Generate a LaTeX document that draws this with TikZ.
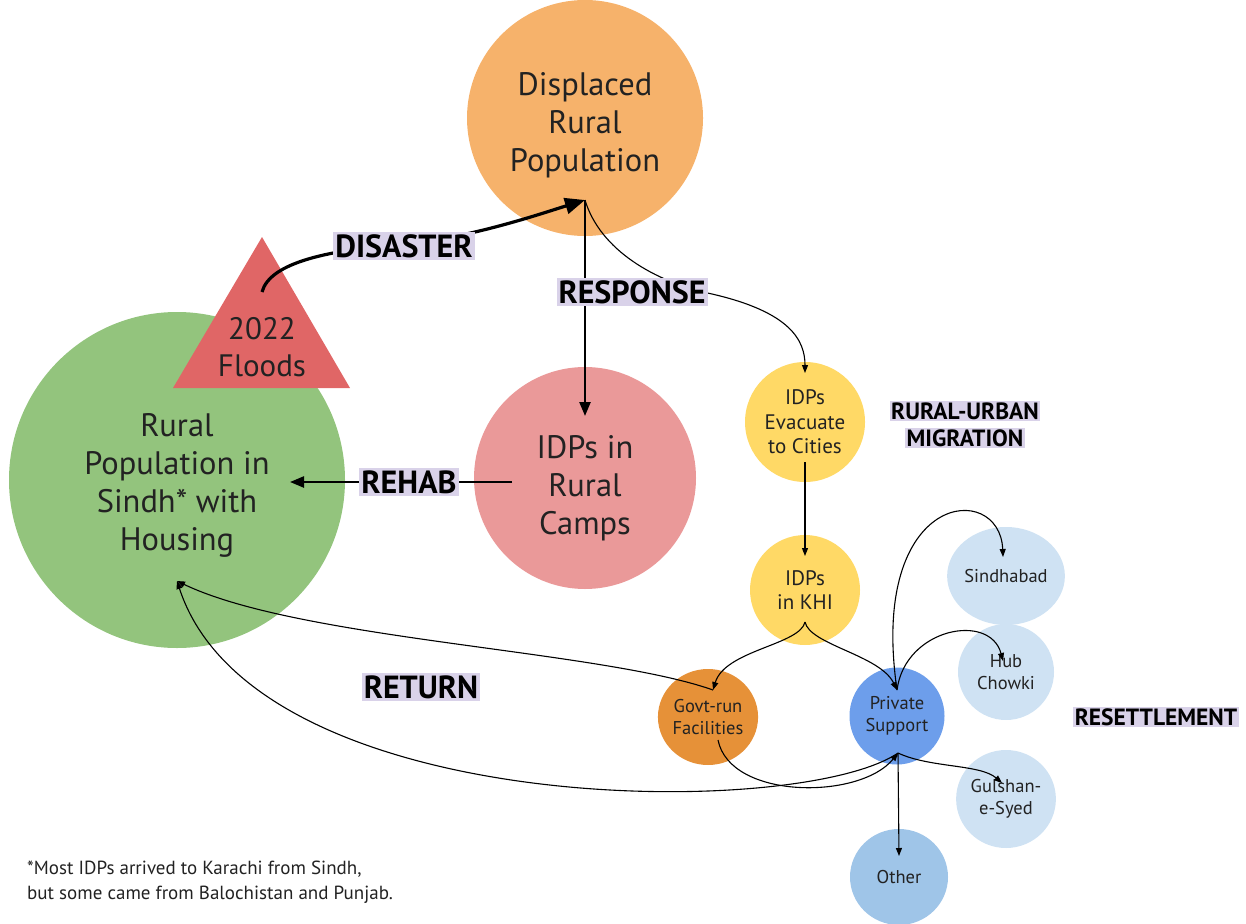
\documentclass[tikz,border=0pt]{standalone}
\usepackage{fontspec}
\setmainfont{PT Sans}
\usetikzlibrary{arrows.meta,shapes.geometric}
\definecolor{corange}{HTML}{F6B26B}
\definecolor{cred}{HTML}{E06666}
\definecolor{cgreen}{HTML}{93C47D}
\definecolor{cpink}{HTML}{EA9999}
\definecolor{cyellow}{HTML}{FFD966}
\definecolor{cgovt}{HTML}{E69138}
\definecolor{cpriv}{HTML}{6D9EEB}
\definecolor{clblue}{HTML}{CFE2F3}
\definecolor{cother}{HTML}{9FC5E8}
\definecolor{clav}{HTML}{D9D2E9}
\definecolor{ctext}{HTML}{222222}
\begin{document}
\begin{tikzpicture}[x=1pt,y=-1pt,
  bubble/.style={ellipse,inner sep=0pt,align=center,text=ctext},
  big/.style={bubble,font=\fontsize{32.5}{38}\selectfont},
  mid/.style={bubble,font=\fontsize{21}{24.5}\selectfont},
  small/.style={bubble,font=\fontsize{18.5}{22.5}\selectfont},
  lbl/.style={fill=clav,inner sep=2pt,text=black,font=\bfseries\fontsize{32}{34}\selectfont},
  slbl/.style={fill=clav,inner sep=1.5pt,text=black,font=\bfseries\fontsize{23.5}{25}\selectfont},
  thickarr/.style={line width=3.2pt,-{Triangle[length=20pt,width=16pt]}},
  medarr/.style={line width=2.4pt,-{Triangle[length=14pt,width=11pt]}},
  thinarr/.style={line width=1.1pt,-{Triangle[length=8pt,width=6pt]}}]
\useasboundingbox (0,0) rectangle (1246,923);
% nodes
\node[bubble,fill=corange,minimum width=236pt,minimum height=236pt] (disp) at (585,118) {};
\node[big] (disptxt) at (585,125) {Displaced\\Rural\\Population};
\node[bubble,fill=cgreen,minimum width=336pt,minimum height=336pt] (rural) at (177,480) {};
\node[big] (ruraltxt) at (177,485) {Rural\\Population in\\Sindh* with\\Housing};
\fill[cred] (262,237) -- (350,388) -- (173,388) -- cycle;
\node[bubble,font=\fontsize{31}{37}\selectfont] (flood) at (262,347) {2022\\Floods};
\node[bubble,fill=cpink,minimum width=222pt,minimum height=222pt] (camps) at (585,478) {};
\node[big] (campstxt) at (585,488) {IDPs in\\Rural\\Camps};
\node[mid,fill=cyellow,minimum width=120pt,minimum height=120pt] (evac) at (805,422) {IDPs\\Evacuate\\to Cities};
\node[mid,fill=cyellow,minimum width=110pt,minimum height=110pt] (khi) at (805,590) {IDPs\\in KHI};
\node[small,fill=cgovt,minimum width=86pt,minimum height=96pt] (govt) at (708,717) {Govt-run\\Facilities};
\node[small,fill=cpriv,minimum width=95pt,minimum height=97pt] (priv) at (897,716) {Private\\Support};
\node[small,fill=clblue,minimum width=96pt,minimum height=98pt] (sind) at (1006,576) {Sindhabad};
\node[small,fill=clblue,minimum width=96pt,minimum height=96pt] (hub) at (1006,672) {Hub\\Chowki};
\node[small,fill=clblue,minimum width=96pt,minimum height=98pt] (gul) at (1006,799) {Gulshan-\\e-Syed};
\node[small,fill=cother,minimum width=98pt,minimum height=96pt] (other) at (899,877) {Other};
% anchor points
\coordinate (fstart) at (262,292);
\coordinate (dtop) at (585,200);
\coordinate (ctop) at (585,416);
\coordinate (rehabstart) at (512,482);
\coordinate (rehabend) at (290,482);
\coordinate (evtop) at (805,373);
\coordinate (evbot) at (805,462);
\coordinate (khitop) at (805,556);
\coordinate (khibot) at (805,622);
\coordinate (govttop) at (713,690);
\coordinate (govtbot) at (718,740);
\coordinate (privtop) at (897,690);
\coordinate (privbot) at (898,753);
\coordinate (sindin) at (1003,557);
\coordinate (hubin) at (1003,661);
\coordinate (gulin) at (1002,783);
\coordinate (otherin) at (899,856);
\coordinate (greenin) at (177,581);
% connectors
\draw[thickarr] (fstart) .. controls (270,262) and (330,250) .. (404,244) .. controls (470,238) and (540,214) .. (dtop);
\draw[medarr] (dtop) -- (ctop);
\draw[thinarr] (dtop) .. controls (600,250) and (655,282) .. (712,294) .. controls (790,312) and (805,340) .. (evtop);
\draw[medarr] (rehabstart) -- (rehabend);
\draw[thinarr] (evbot) -- (khitop);
\draw[thinarr] (khibot) .. controls (800,645) and (725,650) .. (govttop);
\draw[thinarr] (khibot) .. controls (810,645) and (880,655) .. (privtop);
\draw[thinarr] (privtop) .. controls (868,490) and (1000,480) .. (sindin);
\draw[thinarr] (privtop) .. controls (905,628) and (990,612) .. (hubin);
\draw[thinarr] (privbot) .. controls (930,768) and (980,764) .. (gulin);
\draw[thinarr] (privbot) -- (otherin);
\draw[thinarr] (govtbot) .. controls (730,800) and (860,800) .. (privbot);
\draw[thinarr] (govttop) .. controls (600,650) and (300,640) .. (greenin);
\draw[thinarr] (privbot) .. controls (800,820) and (255,820) .. (greenin);
% labels
\node[lbl] (ldis) at (404,246) {DISASTER};
\node[lbl] (lresp) at (632,292) {RESPONSE};
\node[lbl] (lreh) at (409,482) {REHAB};
\node[lbl] (lret) at (421,687) {RETURN};
\node[slbl] (lmig1) at (965,411) {RURAL-URBAN};
\node[slbl] (lmig2) at (965,438) {MIGRATION};
\node[slbl] (lres) at (1156,717) {RESETTLEMENT};
\node[anchor=west,align=left,text=ctext,font=\fontsize{19}{25}\selectfont,inner sep=0pt] (foot) at (27,882) {*Most IDPs arrived to Karachi from Sindh,\\but some came from Balochistan and Punjab.};
\end{tikzpicture}
\end{document}
